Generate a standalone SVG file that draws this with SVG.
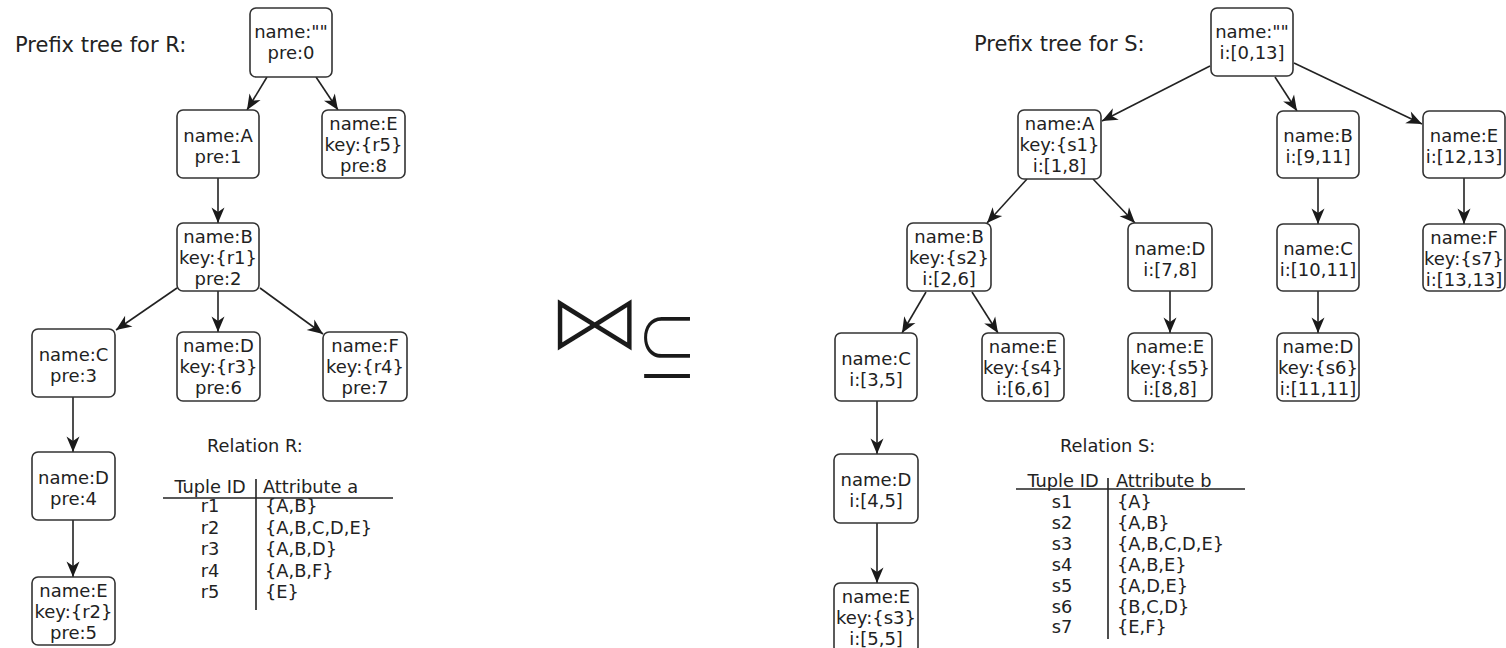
<svg xmlns="http://www.w3.org/2000/svg" width="1506" height="648" viewBox="0 0 1506 648">
  <defs>
    <marker id="arrow" markerUnits="userSpaceOnUse" markerWidth="18" markerHeight="16" viewBox="-17 -8 18 16" refX="0" refY="0" orient="auto">
      <path d="M0,0 L-15.5,-6.5 L-11,0 L-15.5,6.5 Z" fill="#1a1a1a"/>
    </marker>
  </defs>
  <style>
    text { font-family: "DejaVu Sans", "Liberation Sans", sans-serif; fill: #222; }
    .node rect { fill: #fff; stroke: #333; stroke-width: 1.6; }
    .node text { font-size: 18px; text-anchor: middle; }
    .title { font-size: 21px; }
    .tbl { font-size: 17.8px; }
    .mid { text-anchor: middle; }
    .edges line { stroke: #222; stroke-width: 1.6; marker-end: url(#arrow); }
    .rule { stroke: #222; stroke-width: 1.6; }
    /* the join glyph is set large and thinned with a white stroke painted over its fill */
    .join { font-size: 98px; text-anchor: middle; fill: #1a1a1a; stroke: #fff; stroke-width: 3.6; }
    .subset { font-family: "Noto Sans CJK SC", "DejaVu Sans", sans-serif; font-weight: 300; font-size: 78px; text-anchor: middle; fill: #1a1a1a; }
  </style>
  <rect width="1506" height="648" fill="#fff"/>

  <!-- titles -->
  <text class="title" x="15" y="52">Prefix tree for R:</text>
  <text class="title" x="974" y="51">Prefix tree for S:</text>

  <!-- connectors of both trees -->
  <g id="edges" class="edges">
    <line x1="267" y1="77" x2="247" y2="110"/>
    <line x1="316" y1="77" x2="338" y2="110"/>
    <line x1="218" y1="178" x2="218" y2="223"/>
    <line x1="177" y1="288" x2="116" y2="330"/>
    <line x1="218" y1="291" x2="218" y2="332"/>
    <line x1="260" y1="288" x2="323" y2="334"/>
    <line x1="73" y1="397" x2="73" y2="452"/>
    <line x1="73" y1="520" x2="73" y2="577"/>

    <line x1="1210" y1="66" x2="1102" y2="121"/>
    <line x1="1275" y1="77" x2="1297" y2="111"/>
    <line x1="1294" y1="63" x2="1422" y2="124"/>
    <line x1="1027" y1="179" x2="987" y2="223"/>
    <line x1="1093" y1="179" x2="1135" y2="223"/>
    <line x1="926" y1="292" x2="902" y2="333"/>
    <line x1="972" y1="292" x2="998" y2="333"/>
    <line x1="1170" y1="291" x2="1170" y2="333"/>
    <line x1="1318" y1="178" x2="1318" y2="224"/>
    <line x1="1464" y1="178" x2="1464" y2="224"/>
    <line x1="1318" y1="291" x2="1318" y2="333"/>
    <line x1="877" y1="401" x2="877" y2="454"/>
    <line x1="877" y1="523" x2="877" y2="583"/>
  </g>

  <!-- prefix tree for R -->
  <g id="r-root" class="node"><rect x="250" y="8" width="82" height="69" rx="6"/><text x="291" y="37.5">name:""</text><text x="291" y="58.5">pre:0</text></g>
  <g id="r-a" class="node"><rect x="177" y="110" width="82" height="68" rx="6"/><text x="218" y="142">name:A</text><text x="218" y="163">pre:1</text></g>
  <g id="r-e5" class="node"><rect x="322" y="110" width="83" height="68" rx="6"/><text x="363.5" y="130">name:E</text><text x="363.5" y="151">key:{r5}</text><text x="363.5" y="172">pre:8</text></g>
  <g id="r-b" class="node"><rect x="177" y="223" width="82" height="68" rx="6"/><text x="218" y="243">name:B</text><text x="218" y="264">key:{r1}</text><text x="218" y="285">pre:2</text></g>
  <g id="r-c" class="node"><rect x="32" y="329" width="83" height="68" rx="6"/><text x="73.5" y="361">name:C</text><text x="73.5" y="382">pre:3</text></g>
  <g id="r-d3" class="node"><rect x="177" y="332" width="83" height="69" rx="6"/><text x="218.5" y="352">name:D</text><text x="218.5" y="373">key:{r3}</text><text x="218.5" y="394">pre:6</text></g>
  <g id="r-f" class="node"><rect x="323" y="332" width="84" height="69" rx="6"/><text x="365" y="352">name:F</text><text x="365" y="373">key:{r4}</text><text x="365" y="394">pre:7</text></g>
  <g id="r-d4" class="node"><rect x="32" y="452" width="83" height="68" rx="6"/><text x="73.5" y="484">name:D</text><text x="73.5" y="505">pre:4</text></g>
  <g id="r-e2" class="node"><rect x="32" y="577" width="83" height="68" rx="6"/><text x="73.5" y="597">name:E</text><text x="73.5" y="618">key:{r2}</text><text x="73.5" y="639">pre:5</text></g>

  <!-- prefix tree for S -->
  <g id="s-root" class="node"><rect x="1211" y="8" width="82" height="68" rx="6"/><text x="1252" y="37.5">name:""</text><text x="1252" y="58.5">i:[0,13]</text></g>
  <g id="s-a" class="node"><rect x="1018" y="110" width="83" height="69" rx="6"/><text x="1059.5" y="130">name:A</text><text x="1059.5" y="151">key:{s1}</text><text x="1059.5" y="172">i:[1,8]</text></g>
  <g id="s-b9" class="node"><rect x="1277" y="111" width="82" height="67" rx="6"/><text x="1318" y="142">name:B</text><text x="1318" y="163">i:[9,11]</text></g>
  <g id="s-e12" class="node"><rect x="1423" y="111" width="82" height="67" rx="6"/><text x="1464" y="142">name:E</text><text x="1464" y="163">i:[12,13]</text></g>
  <g id="s-b2" class="node"><rect x="907" y="223" width="84" height="68" rx="6"/><text x="949" y="243">name:B</text><text x="949" y="264">key:{s2}</text><text x="949" y="285">i:[2,6]</text></g>
  <g id="s-d7" class="node"><rect x="1128" y="223" width="84" height="68" rx="6"/><text x="1170" y="255">name:D</text><text x="1170" y="276">i:[7,8]</text></g>
  <g id="s-c10" class="node"><rect x="1277" y="224" width="82" height="67" rx="6"/><text x="1318" y="255">name:C</text><text x="1318" y="276">i:[10,11]</text></g>
  <g id="s-f" class="node"><rect x="1423" y="224" width="82" height="67" rx="6"/><text x="1464" y="244">name:F</text><text x="1464" y="265">key:{s7}</text><text x="1464" y="286">i:[13,13]</text></g>
  <g id="s-c3" class="node"><rect x="835" y="333" width="82" height="68" rx="6"/><text x="876" y="365">name:C</text><text x="876" y="386">i:[3,5]</text></g>
  <g id="s-e4" class="node"><rect x="982" y="333" width="82" height="68" rx="6"/><text x="1023" y="353">name:E</text><text x="1023" y="374">key:{s4}</text><text x="1023" y="395">i:[6,6]</text></g>
  <g id="s-e5" class="node"><rect x="1128" y="333" width="84" height="68" rx="6"/><text x="1170" y="353">name:E</text><text x="1170" y="374">key:{s5}</text><text x="1170" y="395">i:[8,8]</text></g>
  <g id="s-d6" class="node"><rect x="1277" y="333" width="82" height="68" rx="6"/><text x="1318" y="353">name:D</text><text x="1318" y="374">key:{s6}</text><text x="1318" y="395">i:[11,11]</text></g>
  <g id="s-d4" class="node"><rect x="834" y="454" width="84" height="69" rx="6"/><text x="876" y="486">name:D</text><text x="876" y="507">i:[4,5]</text></g>
  <g id="s-e3" class="node"><rect x="834" y="583" width="84" height="70" rx="6"/><text x="876" y="603">name:E</text><text x="876" y="624">key:{s3}</text><text x="876" y="645">i:[5,5]</text></g>

  <!-- join operator between the two trees -->
  <g id="operator">
    <text class="join" transform="translate(594.5,325.5) scale(1,0.85)" x="0" y="30.4">⋈</text>
    <text class="subset" transform="translate(667,377) scale(0.79,1)" x="0" y="0">⊆</text>
  </g>

  <!-- relation R table -->
  <g id="relation-r" class="tbl">
    <text class="tbl" x="207" y="452">Relation R:</text>
    <text class="tbl mid" x="210" y="493">Tuple ID</text>
    <text class="tbl" x="263" y="493">Attribute a</text>
    <line class="rule" x1="163" y1="498" x2="393" y2="498"/>
    <line class="rule" x1="256" y1="479" x2="256" y2="610"/>
    <text class="tbl mid" x="210" y="512">r1</text><text class="tbl" x="265" y="512">{A,B}</text>
    <text class="tbl mid" x="210" y="533.5">r2</text><text class="tbl" x="265" y="533.5">{A,B,C,D,E}</text>
    <text class="tbl mid" x="210" y="555">r3</text><text class="tbl" x="265" y="555">{A,B,D}</text>
    <text class="tbl mid" x="210" y="576.5">r4</text><text class="tbl" x="265" y="576.5">{A,B,F}</text>
    <text class="tbl mid" x="210" y="598">r5</text><text class="tbl" x="265" y="598">{E}</text>
  </g>

  <!-- relation S table -->
  <g id="relation-s" class="tbl">
    <text class="tbl" x="1060" y="452">Relation S:</text>
    <text class="tbl mid" x="1063" y="487">Tuple ID</text>
    <text class="tbl" x="1116" y="487">Attribute b</text>
    <line class="rule" x1="1016" y1="489" x2="1245" y2="489"/>
    <line class="rule" x1="1108" y1="478" x2="1108" y2="639"/>
    <text class="tbl mid" x="1062" y="508">s1</text><text class="tbl" x="1117" y="508">{A}</text>
    <text class="tbl mid" x="1062" y="529">s2</text><text class="tbl" x="1117" y="529">{A,B}</text>
    <text class="tbl mid" x="1062" y="550">s3</text><text class="tbl" x="1117" y="550">{A,B,C,D,E}</text>
    <text class="tbl mid" x="1062" y="571">s4</text><text class="tbl" x="1117" y="571">{A,B,E}</text>
    <text class="tbl mid" x="1062" y="592">s5</text><text class="tbl" x="1117" y="592">{A,D,E}</text>
    <text class="tbl mid" x="1062" y="612.5">s6</text><text class="tbl" x="1117" y="612.5">{B,C,D}</text>
    <text class="tbl mid" x="1062" y="633">s7</text><text class="tbl" x="1117" y="633">{E,F}</text>
  </g>
</svg>
